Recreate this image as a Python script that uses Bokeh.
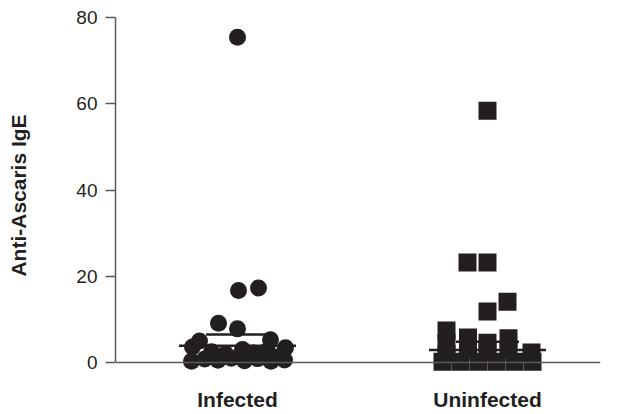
from bokeh.plotting import figure
from bokeh.models import Range1d, Span, ColumnDataSource, FixedTicker
from bokeh.embed import file_html
from bokeh.resources import INLINE

# ---- data ----
categories = ["Infected", "Uninfected"]
category_pos = [1, 2]

infected_values = [75.4, 16.7, 17.3, 9.1, 7.8, 5.0, 5.3, 3.6, 3.4,
                   2.5, 2.0, 3.0, 2.2, 2.8, 1.5,
                   0.3, 0.8, 0.5, 1.0, 0.4, 0.9, 0.3, 0.6]
infected_jitter = [0.0, 0.004, 0.084, -0.076, 0.0, -0.152, 0.132, -0.18, 0.192,
                   -0.104, -0.048, 0.02, 0.064, 0.12, 0.172,
                   -0.184, -0.131, -0.078, -0.025, 0.028, 0.081, 0.134, 0.188]

uninfected_values = [58.4, 23.2, 23.2, 14.1, 11.8,
                     7.4, 4.5, 2.0, 5.8, 3.0, 4.6, 2.5, 5.6, 3.0, 2.3,
                     0.2, 0.2, 0.2, 0.2, 0.2, 0.2]
uninfected_jitter = [0.0, -0.08, 0.0, 0.08, 0.0,
                     -0.164, -0.164, -0.164, -0.078, -0.078, 0.0, 0.0, 0.084, 0.084, 0.176,
                     -0.18, -0.108, -0.036, 0.036, 0.108, 0.18]

mean_values = [3.9, 2.9]
upper_values = [6.5, 4.8]
y_ticks = [0, 20, 40, 60, 80]

INK = "#231f20"
AXIS = "#58595b"

p = figure(width=619, height=414, output_backend="svg", toolbar_location=None,
           x_range=Range1d(0.512, 2.452), y_range=Range1d(-2.55, 80),
           min_border_left=115, min_border_right=19, min_border_top=17, min_border_bottom=41)
p.outline_line_color = None
p.xgrid.visible = False
p.ygrid.visible = False
p.background_fill_color = "white"
p.border_fill_color = "white"

inf_src = ColumnDataSource(dict(x=[category_pos[0] + j for j in infected_jitter], y=infected_values))
uni_src = ColumnDataSource(dict(x=[category_pos[1] + j for j in uninfected_jitter], y=uninfected_values))
p.scatter("x", "y", source=inf_src, marker="circle", size=17, fill_color=INK, line_color=None)
p.scatter("x", "y", source=uni_src, marker="square", size=18, fill_color=INK, line_color=None)

long_half = 0.234
short_half = 0.126
p.segment(x0=[c - long_half for c in category_pos], x1=[c + long_half for c in category_pos],
          y0=mean_values, y1=mean_values, line_color=INK, line_width=2.6)
p.segment(x0=[c - short_half for c in category_pos], x1=[c + short_half for c in category_pos],
          y0=upper_values, y1=upper_values, line_color=INK, line_width=2.6)

# x baseline at zero
p.add_layout(Span(location=0, dimension="width", line_color=AXIS, line_width=1.5))

# y axis
yax = p.yaxis[0]
yax.bounds = (0, 80)
yax.ticker = FixedTicker(ticks=y_ticks)
yax.axis_line_color = AXIS
yax.axis_line_width = 1.5
yax.major_tick_line_color = AXIS
yax.major_tick_line_width = 1.5
yax.major_tick_out = 10
yax.major_tick_in = 0
yax.minor_tick_line_color = None
yax.major_label_standoff = 8
yax.major_label_text_font = "Liberation Sans"
yax.major_label_text_font_size = "19px"
yax.major_label_text_color = INK
yax.axis_label = "Anti-Ascaris IgE"
yax.axis_label_text_font = "Liberation Sans"
yax.axis_label_text_font_size = "21px"
yax.axis_label_text_font_style = "bold"
yax.axis_label_text_color = INK
yax.axis_label_standoff = 43

# x axis: category names only
xax = p.xaxis[0]
xax.ticker = FixedTicker(ticks=category_pos)
xax.major_label_overrides = {pos: name for pos, name in zip(category_pos, categories)}
xax.axis_line_color = None
xax.major_tick_line_color = None
xax.minor_tick_line_color = None
xax.major_tick_out = 0
xax.major_tick_in = 0
xax.major_label_standoff = 14
xax.major_label_text_font = "Liberation Sans"
xax.major_label_text_font_size = "21px"
xax.major_label_text_font_style = "bold"
xax.major_label_text_color = INK

open("out.html", "w").write(file_html(p, INLINE))
